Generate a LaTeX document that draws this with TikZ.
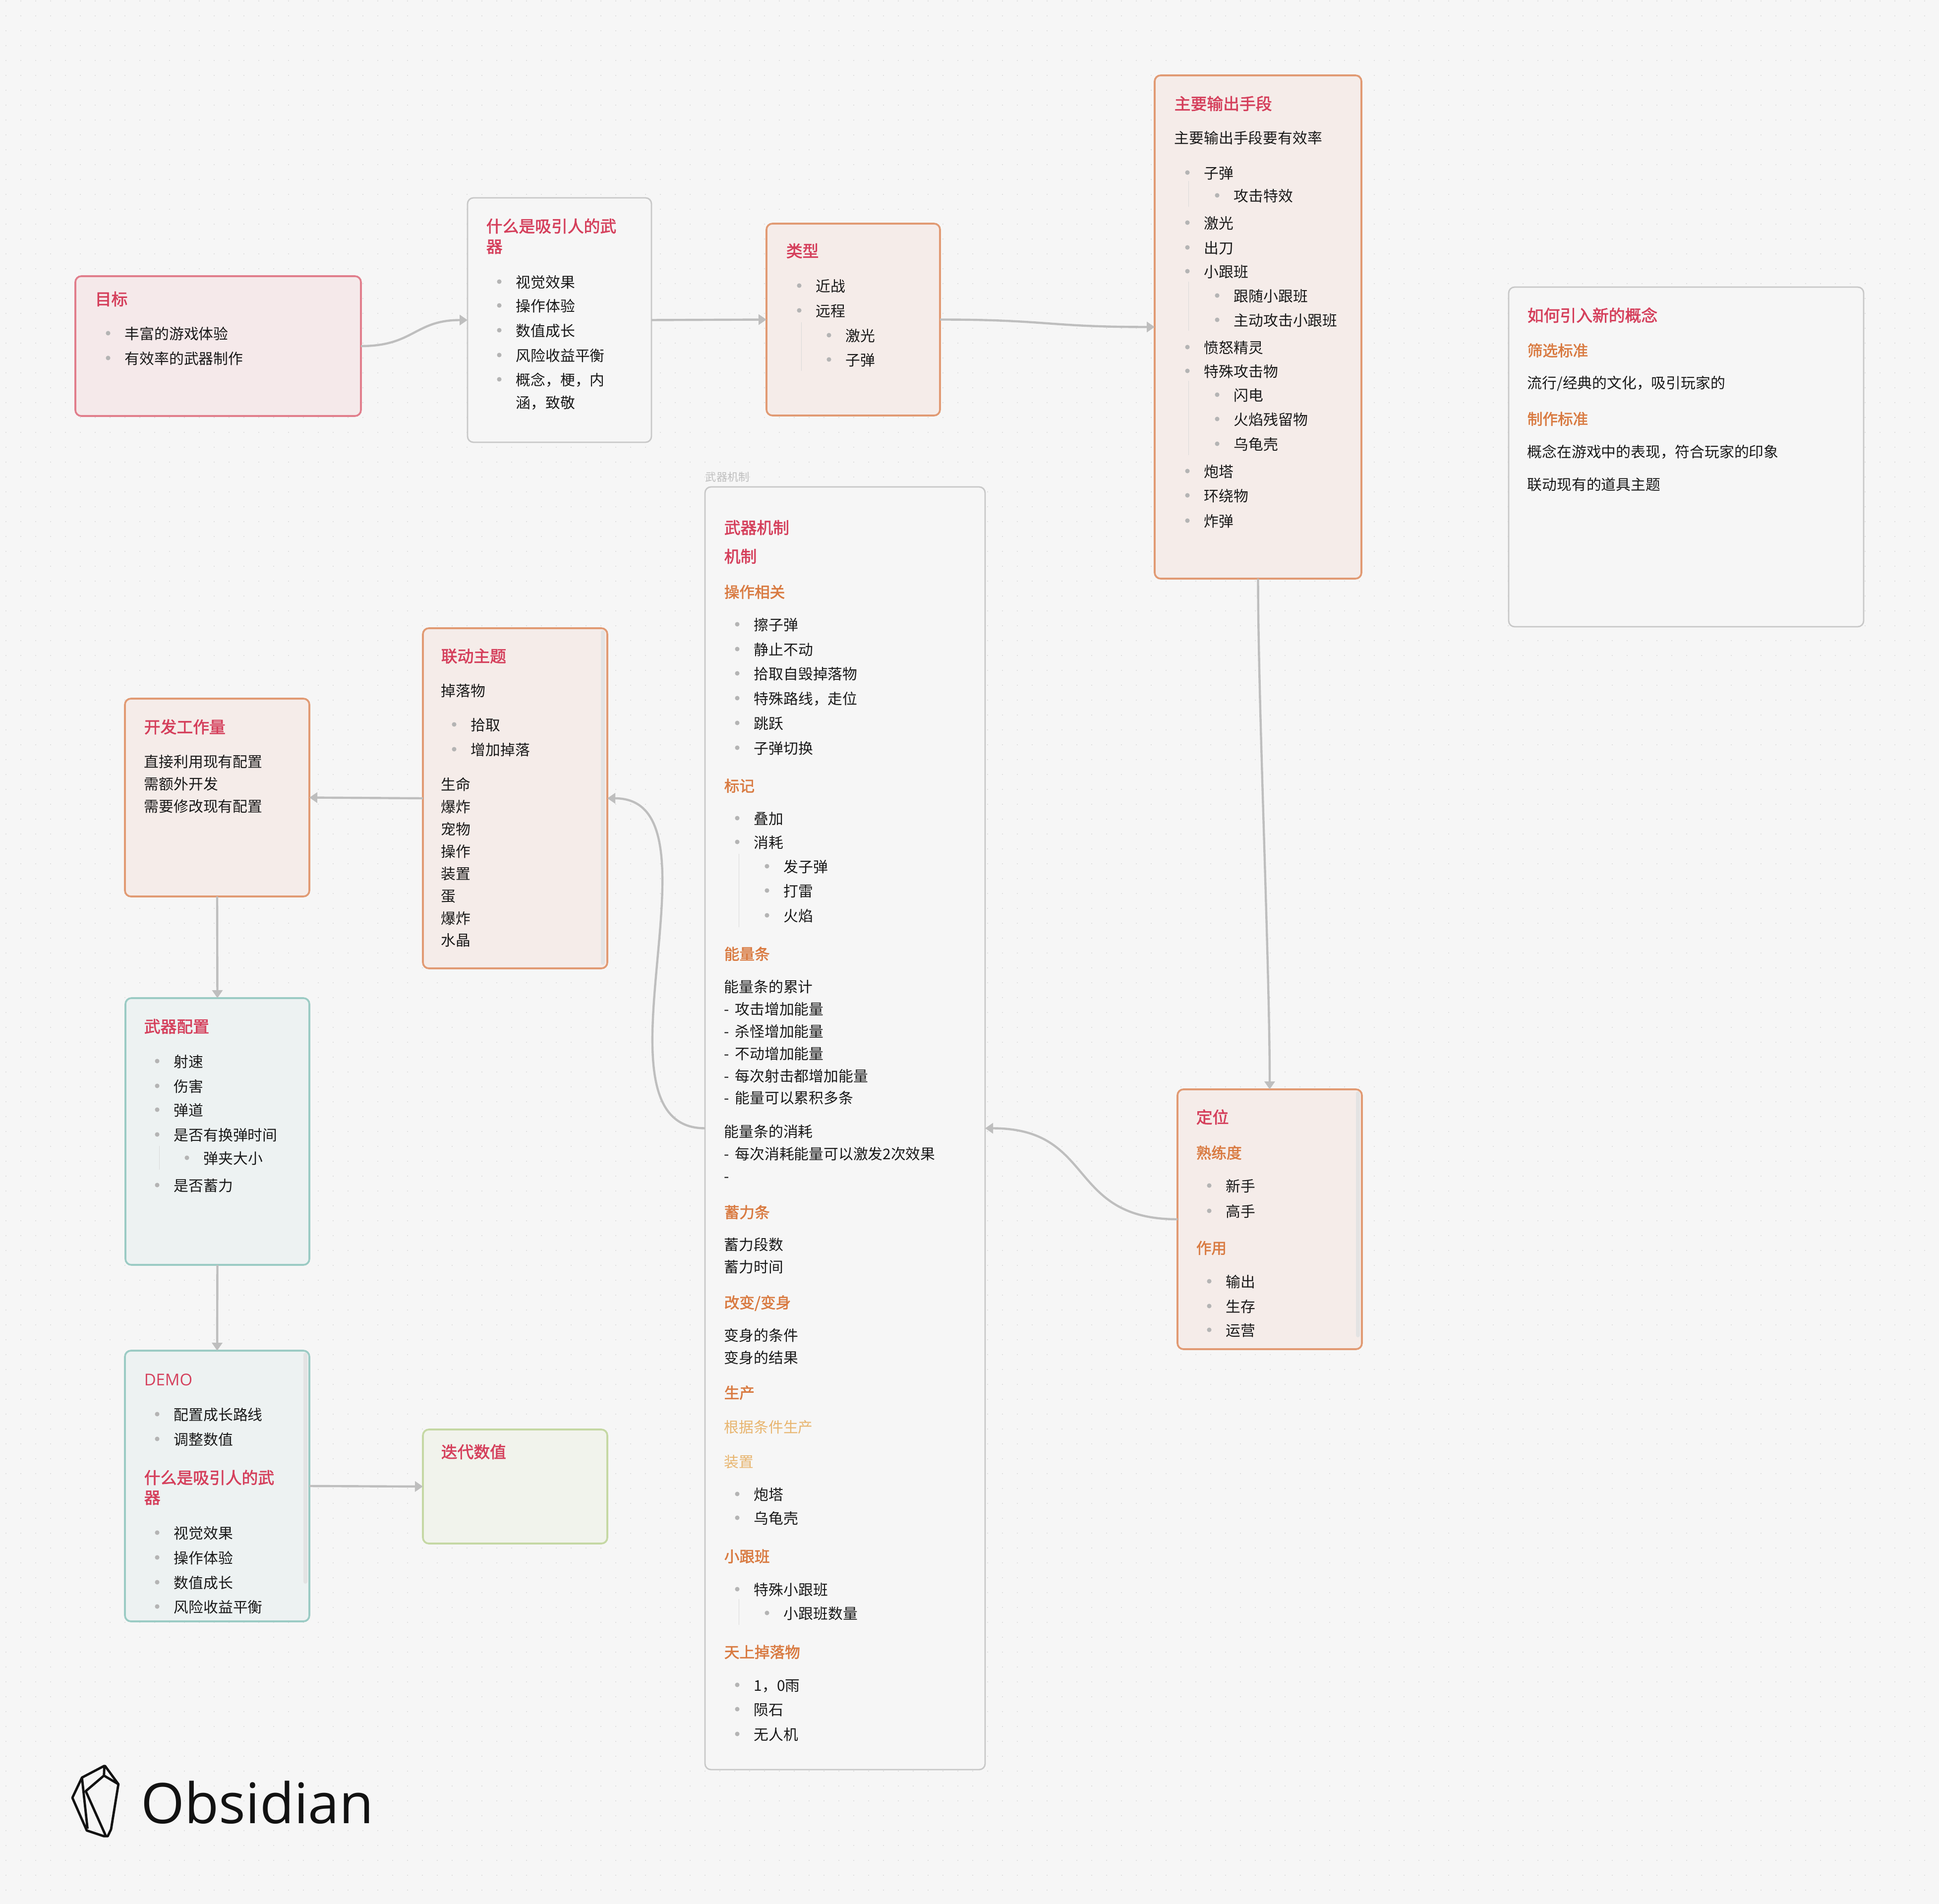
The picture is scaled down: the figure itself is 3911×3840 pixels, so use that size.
\documentclass[tikz,border=0pt]{standalone}
\usepackage{fontspec}
\setmainfont{Noto Sans CJK SC}
\newfontfamily\headfont[FakeBold=2]{Noto Sans CJK SC}
\newfontfamily\logofont{Open Sans}
\usetikzlibrary{arrows.meta,fit}

\definecolor{canvasgrey}{HTML}{F6F6F6}
\definecolor{griddot}{HTML}{DEDEDE}
\definecolor{linkgrey}{HTML}{BEBEBE}
\definecolor{dotgrey}{HTML}{B4B4B4}
\definecolor{barkgrey}{HTML}{E3E3E3}
\definecolor{headred}{HTML}{D5405C}
\definecolor{suborange}{HTML}{D97B42}
\definecolor{lowyellow}{HTML}{E8B56F}
\definecolor{edgered}{HTML}{E17E8C}
\definecolor{fillred}{HTML}{F5E9EA}
\definecolor{edgeorange}{HTML}{E19A73}
\definecolor{fillorange}{HTML}{F5ECE9}
\definecolor{edgeteal}{HTML}{9BCBC4}
\definecolor{fillteal}{HTML}{EDF2F2}
\definecolor{edgegreen}{HTML}{C5D8A4}
\definecolor{fillgreen}{HTML}{F1F3EC}

\tikzset{
  card/.style={rectangle, rounded corners=3pt, line width=.9pt, inner sep=0pt, outer sep=0pt},
  redcard/.style={card, draw=edgered, fill=fillred},
  greycard/.style={card, draw=linkgrey!85, fill=canvasgrey, line width=.7pt},
  orangecard/.style={card, draw=edgeorange, fill=fillorange},
  tealcard/.style={card, draw=edgeteal, fill=fillteal},
  greencard/.style={card, draw=edgegreen, fill=fillgreen},
  linetext/.style={anchor=west, inner sep=0pt, text height=.81em, text depth=.19em},
  plain/.style={linetext, font=\fontsize{7.45pt}{9pt}\selectfont, text=black!90},
  head/.style={linetext, font=\fontsize{8.2pt}{10pt}\headfont, text=headred},
  demohead/.style={linetext, font=\fontsize{8.2pt}{10pt}\logofont, text=headred},
  sub/.style={linetext, font=\fontsize{7.65pt}{10pt}\headfont, text=suborange},
  low/.style={linetext, font=\fontsize{7.45pt}{9pt}\selectfont, text=lowyellow},
  bulletdot/.style={circle, fill=dotgrey, inner sep=0pt, minimum size=2.3pt},
  item/.style={plain, xshift=15pt, label={[bulletdot, label distance=6.9pt]180:{}}},
  subitem/.style={plain, xshift=30pt, label={[bulletdot, label distance=6.9pt]180:{}}},
  itemcont/.style={plain, xshift=15pt},
  guide/.style={draw=black!15, line width=.25pt},
  scrollbar/.style={fill=barkgrey, rounded corners=1pt},
  griddots/.style={draw=griddot, line width=.4pt, dash pattern=on .4pt off 7.1pt},
  link/.style={draw=linkgrey, line width=1.1pt, -{Triangle[length=4pt,width=5.2pt]}},
}

% text lines of one card: prefix, x, list of y/text/kind
\newcommand{\cardlines}[3]{%
  \foreach \ypos/\body/\kind [count=\n] in {#3}
    \node (#1-\n) [\kind] at (#2,\ypos) {\body};}
\newcommand{\dashitem}{-\kern1.2pt\ }

\begin{document}
\begin{tikzpicture}[x=.25pt,y=-.25pt]
\fill[canvasgrey] (0,0) rectangle (3911,3840);
\useasboundingbox (0,0) rectangle (3911,3840);
\foreach \gy in {2,32,...,3830}
  \draw[griddots] (11,\gy) -- (3911,\gy);

% cards
\node (goal) [redcard, fit={(152,557) (728,839)}] {};
\node (attract) [greycard, fit={(943,399) (1314,892)}] {};
\node (kinds) [orangecard, fit={(1546,451) (1896,838)}] {};
\node (output) [orangecard, fit={(2329,152) (2746,1167)}] {};
\node (concept) [greycard, fit={(3043,579) (3759,1264)}] {};
\node (mech) [greycard, fit={(1422,982) (1987,3569)}] {};
\node (theme) [orangecard, fit={(853,1267) (1225,1953)}] {};
\node (devwork) [orangecard, fit={(252,1409) (624,1808)}] {};
\node (config) [tealcard, fit={(253,2013) (624,2551)}] {};
\node (demo) [tealcard, fit={(252,2724) (624,3270)}] {};
\node (iterate) [greencard, fit={(853,2883) (1225,3113)}] {};
\node (role) [orangecard, fit={(2375,2197) (2747,2721)}] {};

\fill[scrollbar] (1212,1271) rectangle (1220,1946);
\fill[scrollbar] (612,2728) rectangle (620,3194);
\fill[scrollbar] (2735,2201) rectangle (2743,2697);

% links
\path[link] (goal.east) .. controls +(107,0) and +(-107,0) .. (attract.west);
\path[link] (attract.east) -- (kinds.west);
\path[link] (kinds.east) .. controls +(216,0) and +(-216,0) .. (output.west);
\path[link] (output.south) .. controls +(0,250) and +(0,-250) .. (role.north);
\path[link] (role.west) .. controls +(-225,0) and +(225,0) .. (mech.east);
\path[link] (mech.west) .. controls +(-250,0) and +(250,0) .. (theme.east);
\path[link] (theme.west) -- (devwork.east);
\path[link] (devwork.south) -- (config.north);
\path[link] (config.south) -- (demo.north);
\path[link] (demo.east) -- (iterate.west);

% text
\cardlines{goal}{191}{603/目标/head, 672/丰富的游戏体验/item, 722/有效率的武器制作/item}
\cardlines{attract}{980}{456/什么是吸引人的武/head, 497/器/head, 568/视觉效果/item, 616/操作体验/item,
  666/数值成长/item, 716/风险收益平衡/item, 765/概念，梗，内/item, 811/涵，致敬/itemcont}
\cardlines{kinds}{1585}{506/类型/head, 576/近战/item, 626/远程/item, 676/激光/subitem, 725/子弹/subitem}
\cardlines{output}{2368}{209/主要输出手段/head, 277/主要输出手段要有效率/plain, 348/子弹/item, 394/攻击特效/subitem,
  449/激光/item, 499/出刀/item, 547/小跟班/item, 596/跟随小跟班/subitem, 645/主动攻击小跟班/subitem,
  700/愤怒精灵/item, 748/特殊攻击物/item, 796/闪电/subitem, 845/火焰残留物/subitem, 895/乌龟壳/subitem,
  950/炮塔/item, 999/环绕物/item, 1050/炸弹/item}
\cardlines{concept}{3080}{636/如何引入新的概念/head, 706/筛选标准/sub, 771/{流行/经典的文化，吸引玩家的}/plain,
  844/制作标准/sub, 910/概念在游戏中的表现，符合玩家的印象/plain, 976/联动现有的道具主题/plain}
\node (mechcaption) [linetext, font=\fontsize{5.55pt}{7pt}\selectfont, text=linkgrey] at (1422,958) {武器机制};
\cardlines{mech}{1460}{1064/武器机制/head, 1122/机制/head, 1193/操作相关/sub, 1259/擦子弹/item, 1309/静止不动/item,
  1358/拾取自毁掉落物/item, 1408/特殊路线，走位/item, 1458/跳跃/item, 1508/子弹切换/item,
  1584/标记/sub, 1650/叠加/item, 1698/消耗/item, 1747/发子弹/subitem, 1796/打雷/subitem, 1846/火焰/subitem,
  1923/能量条/sub, 1989/能量条的累计/plain, 2034/\dashitem 攻击增加能量/plain, 2079/\dashitem 杀怪增加能量/plain,
  2124/\dashitem 不动增加能量/plain, 2169/\dashitem 每次射击都增加能量/plain, 2213/\dashitem 能量可以累积多条/plain,
  2281/能量条的消耗/plain, 2326/\dashitem 每次消耗能量可以激发2次效果/plain, 2371/-/plain,
  2444/蓄力条/sub, 2509/蓄力段数/plain, 2554/蓄力时间/plain,
  2626/{改变/变身}/sub, 2692/变身的条件/plain, 2737/变身的结果/plain,
  2808/生产/sub, 2877/根据条件生产/low, 2947/装置/low, 3013/炮塔/item, 3061/乌龟壳/item,
  3138/小跟班/sub, 3205/特殊小跟班/item, 3253/小跟班数量/subitem,
  3331/天上掉落物/sub, 3398/1，0雨/item, 3447/陨石/item, 3497/无人机/item}
\cardlines{theme}{889}{1323/联动主题/head, 1392/掉落物/plain, 1461/拾取/item, 1511/增加掉落/item,
  1581/生命/plain, 1626/爆炸/plain, 1671/宠物/plain, 1716/操作/plain, 1761/装置/plain, 1806/蛋/plain,
  1851/爆炸/plain, 1895/水晶/plain}
\cardlines{devwork}{290}{1466/开发工作量/head, 1535/直接利用现有配置/plain, 1580/需额外开发/plain, 1625/需要修改现有配置/plain}
\cardlines{config}{290}{2070/武器配置/head, 2140/射速/item, 2190/伤害/item, 2238/弹道/item, 2288/是否有换弹时间/item,
  2335/弹夹大小/subitem, 2390/是否蓄力/item}
\cardlines{demo}{290}{2782/DEMO/demohead, 2852/配置成长路线/item, 2902/调整数值/item, 2980/什么是吸引人的武/head, 3020/器/head,
  3091/视觉效果/item, 3141/操作体验/item, 3191/数值成长/item, 3240/风险收益平衡/item}
\cardlines{iterate}{889}{2928/迭代数值/head}
\cardlines{role}{2412}{2253/定位/head, 2324/熟练度/sub, 2391/新手/item, 2442/高手/item, 2516/作用/sub,
  2584/输出/item, 2634/生存/item, 2682/运营/item}

% nested list guides
\foreach \gx/\gya/\gyb in {1616/650/748, 2397/365/417, 2397/568/667, 2397/768/918,
    1490/1722/1870, 1490/3225/3277, 321/2311/2359}
  \draw[guide] (\gx,\gya) -- (\gx,\gyb);

% logo
\draw[line width=1.2pt, black!93, line join=round]
  (209.7,3561.7) -- (212,3561.7) -- (238.8,3598.3) -- (224,3689.3) -- (217.3,3703.3) -- (209.7,3703.3)
  -- (175,3691.7) -- (146,3625.7) -- (165.3,3585) -- cycle
  (210.5,3561.7) -- (209.7,3581) -- (238.8,3598.3)
  (209.7,3581) -- (173,3612.3) -- (213,3701.7)
  (165.3,3585) -- (176.5,3688);
\node (logotext) [anchor=base west, inner sep=0pt, font=\fontsize{28.2pt}{32pt}\logofont, text=black!93] at (284,3677) {Obsidian};
\end{tikzpicture}
\end{document}
